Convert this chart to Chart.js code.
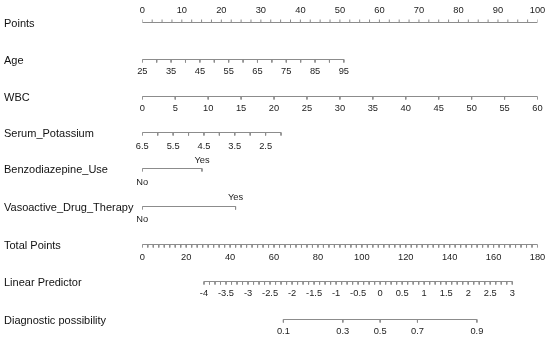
<!DOCTYPE html>
<html>
<head>
<meta charset="utf-8">
<script src="https://cdn.jsdelivr.net/npm/chart.js@4.4.1/dist/chart.umd.min.js"></script>
<style>
  body { margin: 0; background: #fff; }
  canvas { display: block; }
</style>
</head>
<body>
<canvas id="nomogram" width="550" height="339"></canvas>
<script>
// Row names (top to bottom)
const rowNames = ['Points', 'Age', 'WBC', 'Serum_Potassium', 'Benzodiazepine_Use',
  'Vasoactive_Drug_Therapy', 'Total Points', 'Linear Predictor', 'Diagnostic possibility'];

// Points scale
const pointsLabels = [0, 10, 20, 30, 40, 50, 60, 70, 80, 90, 100];
const pointsMinorStep = 2.5;

// Age: 25 -> 0 pts, 95 -> 51 pts
const ageLabels = [25, 35, 45, 55, 65, 75, 85, 95];
const ageRange = [25, 95];
const agePoints = [0, 51];
const ageMinorStep = 5;

// WBC: 0 -> 0 pts, 60 -> 100 pts
const wbcLabels = [0, 5, 10, 15, 20, 25, 30, 35, 40, 45, 50, 55, 60];
const wbcRange = [0, 60];
const wbcPoints = [0, 100];

// Serum potassium: 6.5 -> 0 pts, 2.0 -> 35.1 pts
const potassiumLabels = [6.5, 5.5, 4.5, 3.5, 2.5];
const potassiumRange = [6.5, 2.0];
const potassiumPoints = [0, 35.1];
const potassiumMinorStep = 0.5;

// Categorical predictors
const benzoLevels = ['No', 'Yes'];
const benzoPoints = [0, 15.1];
const vasoLevels = ['No', 'Yes'];
const vasoPoints = [0, 23.6];

// Total points: 0..180
const totalLabels = [0, 20, 40, 60, 80, 100, 120, 140, 160, 180];
const totalRange = [0, 180];
const totalMinorStep = 2.5;

// Linear predictor: -4 -> 28.1 total, 3 -> 168.5 total
const lpLabels = [-4, -3.5, -3, -2.5, -2, -1.5, -1, -0.5, 0, 0.5, 1, 1.5, 2, 2.5, 3];
const lpRange = [-4, 3];
const lpTotal = [28.1, 168.5];
const lpMinorStep = 0.125;

// Diagnostic possibility
const probLabels = [0.1, 0.3, 0.5, 0.7, 0.9];

// layout
const rowY = [22.5, 59.5, 96.5, 132.5, 168.5, 206.5, 244.5, 281.5, 319.5];
const tickLen = 3;
const lineColor = '#8c8c8c';
const textColor = '#222';
const fontFamily = '"Liberation Sans", Arial, Helvetica, sans-serif';

function lin(range, out) {
  return v => out[0] + (v - range[0]) * (out[1] - out[0]) / (range[1] - range[0]);
}
const agePts = lin(ageRange, agePoints);
const wbcPts = lin(wbcRange, wbcPoints);
const kPts = lin(potassiumRange, potassiumPoints);
const totalPts = lin(totalRange, [0, 100]);
const lpToTotal = lin(lpRange, lpTotal);
const lpPts = v => totalPts(lpToTotal(v));
const probPts = p => lpPts(Math.log(p / (1 - p)));

function steps(a, b, step) {
  const out = [];
  const n = Math.round(Math.abs(b - a) / step);
  const s = b > a ? step : -step;
  for (let i = 0; i <= n; i++) out.push(+(a + i * s).toFixed(4));
  return out;
}

const datasets = [];
const textItems = [];

// one dataset per axis: baseline plus tick segments, broken by null gaps
function addAxis(row, x0, x1, tickXs, dir) {
  const y = rowY[row];
  const data = [{ x: x0, y: y }, { x: x1, y: y }, { x: x1, y: null }];
  tickXs.forEach(t => {
    data.push({ x: t, y: y }, { x: t, y: y + dir * tickLen }, { x: t, y: null });
  });
  datasets.push({
    data: data,
    borderColor: lineColor,
    borderWidth: 1,
    pointRadius: 0,
    spanGaps: false,
    tension: 0
  });
}

function addLabels(row, values, toPts, dy, fmt) {
  values.forEach((v, i) => {
    textItems.push({ x: toPts(v, i), y: rowY[row] + dy, text: fmt ? fmt(v, i) : String(v) });
  });
}

// Points
addAxis(0, 0, 100, steps(0, 100, pointsMinorStep), -1);
addLabels(0, pointsLabels, v => v, -12.5);

// Age
addAxis(1, agePts(ageRange[0]), agePts(ageRange[1]), steps(ageRange[0], ageRange[1], ageMinorStep).map(agePts), 1);
addLabels(1, ageLabels, agePts, 11.5);

// WBC
addAxis(2, wbcPts(wbcRange[0]), wbcPts(wbcRange[1]), wbcLabels.map(wbcPts), 1);
addLabels(2, wbcLabels, wbcPts, 12);

// Serum potassium
addAxis(3, kPts(potassiumRange[0]), kPts(potassiumRange[1]),
  steps(potassiumRange[0], potassiumRange[1], potassiumMinorStep).map(kPts), 1);
addLabels(3, potassiumLabels, kPts, 13.5, v => v.toFixed(1));

// Benzodiazepine use
addAxis(4, benzoPoints[0], benzoPoints[1], benzoPoints, 1);
textItems.push({ x: benzoPoints[0], y: rowY[4] + 14, text: benzoLevels[0] });
textItems.push({ x: benzoPoints[1], y: rowY[4] - 8.5, text: benzoLevels[1] });

// Vasoactive drug therapy
addAxis(5, vasoPoints[0], vasoPoints[1], vasoPoints, 1);
textItems.push({ x: vasoPoints[0], y: rowY[5] + 13, text: vasoLevels[0] });
textItems.push({ x: vasoPoints[1], y: rowY[5] - 9.5, text: vasoLevels[1] });

// Total points
addAxis(6, totalPts(totalRange[0]), totalPts(totalRange[1]),
  steps(totalRange[0], totalRange[1], totalMinorStep).map(totalPts), 1);
addLabels(6, totalLabels, totalPts, 13);

// Linear predictor
addAxis(7, lpPts(lpRange[0]), lpPts(lpRange[1]), steps(lpRange[0], lpRange[1], lpMinorStep).map(lpPts), 1);
addLabels(7, lpLabels, lpPts, 12);

// Diagnostic possibility
addAxis(8, probPts(probLabels[0]), probPts(probLabels[probLabels.length - 1]), probLabels.map(probPts), 1);
addLabels(8, probLabels, probPts, 11.5);

// draws axis value labels at scale positions
const axisText = {
  id: 'axisText',
  afterDatasetsDraw(chart) {
    const { ctx, scales: { x, y } } = chart;
    ctx.save();
    ctx.font = '9.3px ' + fontFamily;
    ctx.fillStyle = textColor;
    ctx.textAlign = 'center';
    ctx.textBaseline = 'middle';
    textItems.forEach(t => {
      ctx.fillText(t.text, x.getPixelForValue(t.x), y.getPixelForValue(t.y));
    });
    ctx.restore();
  }
};

new Chart(document.getElementById('nomogram').getContext('2d'), {
  type: 'line',
  data: { datasets: datasets },
  options: {
    responsive: false,
    animation: false,
    layout: { padding: { left: 4, right: 12.5, top: 0, bottom: 0 } },
    plugins: {
      legend: { display: false },
      tooltip: { enabled: false }
    },
    scales: {
      x: { type: 'linear', min: 0, max: 100, display: false },
      y: {
        type: 'linear',
        min: 0,
        max: 339,
        reverse: true,
        grid: { display: false },
        border: { display: false },
        afterBuildTicks: s => { s.ticks = rowY.map(v => ({ value: v + 1 })); },
        afterFit: s => { s.width = 138.3; s.paddingTop = 0; s.paddingBottom = 0; },
        ticks: {
          autoSkip: false,
          crossAlign: 'far',
          padding: 0,
          color: '#111',
          font: { family: fontFamily, size: 11 },
          callback: (v, i) => rowNames[i]
        }
      }
    }
  },
  plugins: [axisText]
});
</script>
</body>
</html>
